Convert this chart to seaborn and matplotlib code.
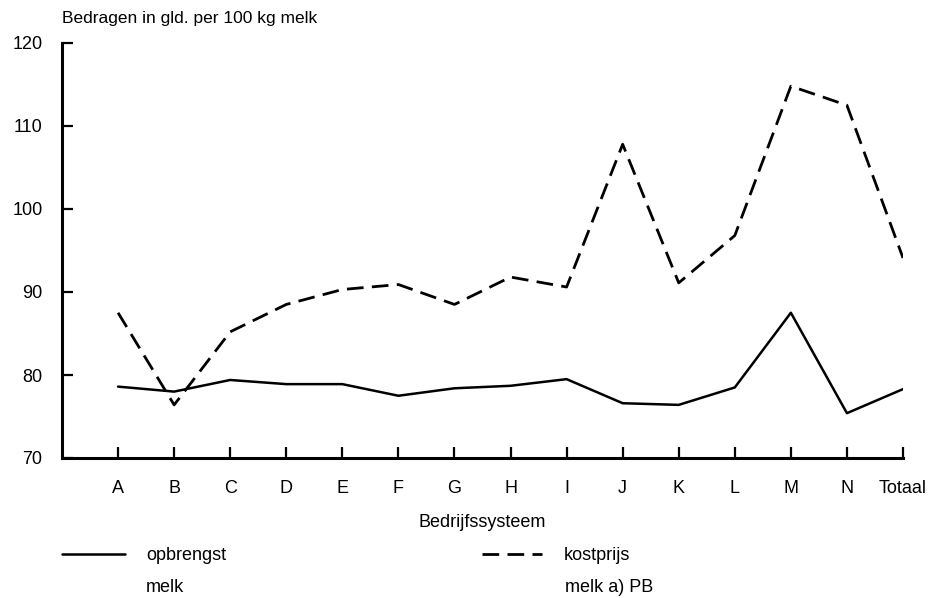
import numpy as np
import pandas as pd
import matplotlib
matplotlib.use("Agg")
import matplotlib.pyplot as plt
import seaborn as sns

# categories on the x axis
bedrijven = ["A", "B", "C", "D", "E", "F", "G", "H", "I", "J", "K", "L", "M", "N", "Totaal"]

# opbrengst melk (solid line)
opbrengst = [78.6, 78.0, 79.4, 78.9, 78.9, 77.5, 78.4, 78.7, 79.5, 76.6, 76.4, 78.5, 87.5, 75.4, 78.3]

# kostprijs melk a) PB (dashed line)
kostprijs = [87.5, 76.4, 85.2, 88.5, 90.3, 90.9, 88.5, 91.8, 90.6, 107.8, 91.1, 96.8, 114.8, 112.5, 94.1]

y_ticks = [70, 80, 90, 100, 110, 120]

df = pd.DataFrame({
    "pos": list(range(len(bedrijven))) * 2,
    "waarde": opbrengst + kostprijs,
    "reeks": ["opbrengst"] * len(bedrijven) + ["kostprijs"] * len(bedrijven),
})

sns.set_style("white", {"xtick.bottom": True, "ytick.left": True,
                        "text.color": "black", "xtick.color": "black",
                        "ytick.color": "black", "axes.labelcolor": "black"})
plt.rcParams["font.family"] = ["Liberation Sans", "DejaVu Sans"]

fig = plt.figure(figsize=(9.34, 5.98), dpi=100)
ax = fig.add_axes([62 / 934, 1 - 458 / 598, (903 - 62) / 934, (458 - 43) / 598])

sns.lineplot(data=df[df.reeks == "opbrengst"], x="pos", y="waarde", color="black",
             linewidth=1.8, ax=ax, legend=False)
sns.lineplot(data=df[df.reeks == "kostprijs"], x="pos", y="waarde", color="black",
             linewidth=2.0, ax=ax, legend=False)
ax.lines[1].set_dashes([6, 3])

fs = 13
ax.set_xlim(-1, len(bedrijven) - 1)
ax.set_ylim(70, 120)
ax.set_xticks(range(len(bedrijven)))
ax.set_xticklabels(bedrijven, fontsize=fs)
ax.set_yticks(y_ticks)
ax.set_yticklabels([str(v) for v in y_ticks], fontsize=fs)
ax.tick_params(axis="both", direction="in", length=8, width=1.6, color="black")
ax.tick_params(axis="x", pad=16)
ax.tick_params(axis="y", pad=14)

for side in ["top", "right"]:
    ax.spines[side].set_visible(False)
for side in ["left", "bottom"]:
    ax.spines[side].set_linewidth(2.2)
    ax.spines[side].set_color("black")

ax.set_xlabel("Bedrijfssysteem", fontsize=fs, labelpad=12)
ax.set_ylabel("")
fig.text(62 / 934, 1 - 18 / 598, "Bedragen in gld. per 100 kg melk", fontsize=12.5,
         ha="left", va="center")

# legend below the chart
h1 = plt.Line2D([], [], color="black", linewidth=1.8)
h2 = plt.Line2D([], [], color="black", linewidth=2.0, dashes=[6, 3])
leg1 = fig.legend(handles=[h1], labels=["opbrengst"], loc="center left",
                  bbox_to_anchor=(62 / 934, 1 - 556 / 598), frameon=False, fontsize=fs,
                  handlelength=3.5, handletextpad=1.15, borderaxespad=0, borderpad=0)
leg2 = fig.legend(handles=[h2], labels=["kostprijs"], loc="center left",
                  bbox_to_anchor=(482 / 934, 1 - 556 / 598), frameon=False, fontsize=fs,
                  handlelength=3.3, handletextpad=1.25, borderaxespad=0, borderpad=0)
fig.text(146 / 934, 1 - 587 / 598, "melk", fontsize=fs, ha="left", va="center")
fig.text(565 / 934, 1 - 587 / 598, "melk a) PB", fontsize=fs, ha="left", va="center")

fig.savefig("out.png", dpi=100)
